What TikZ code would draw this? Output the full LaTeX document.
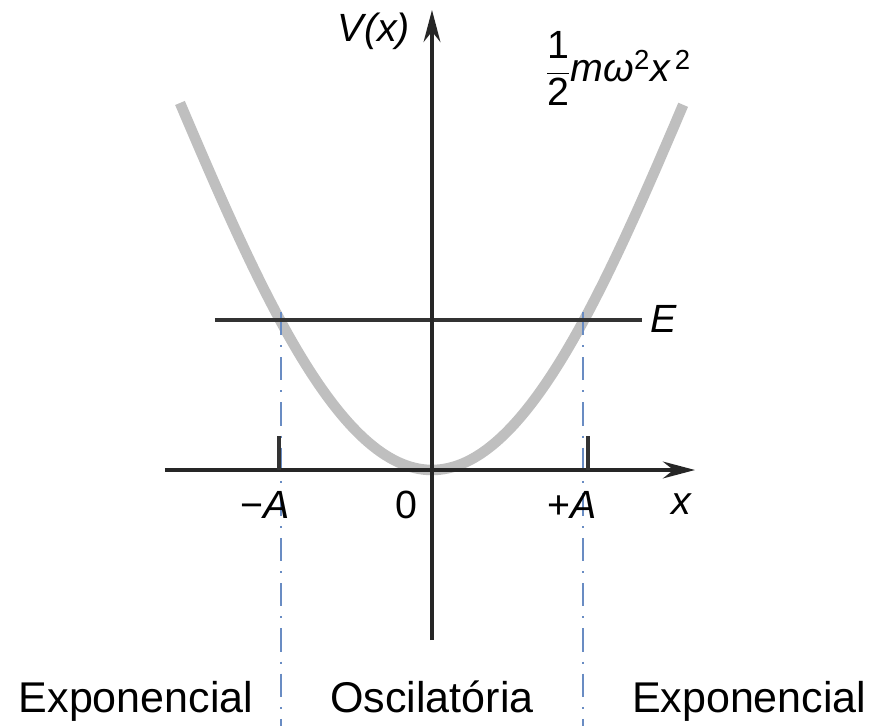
\documentclass[tikz,border=0pt]{standalone}
\usepackage{amsmath}
\usepackage{fontspec}
\setmainfont{Liberation Sans}
\usetikzlibrary{arrows.meta}
\definecolor{turncol}{RGB}{105,140,195}
\begin{document}
\begin{tikzpicture}[
    every node/.style={font=\fontsize{28}{34}\selectfont, inner sep=0pt},
    lbl/.style={font=\fontsize{28}{34}\selectfont\itshape, anchor=base},
    region/.style={font=\fontsize{30.6}{36}\selectfont, anchor=base},
    axis/.style={-{Stealth[length=0.8cm, width=0.42cm]}, line width=2.5pt, black!85},
    level/.style={line width=2.5pt, black!80},
    turn/.style={line width=1.1pt, turncol, dash pattern=on 0.58cm off 0.25cm on 0.05cm off 0.25cm},
    pot/.style={line width=7.5pt, black!25}]
\useasboundingbox (-10.8,-6.4) rectangle (11.1,11.75);
% axes end points
\coordinate (xl) at (-6.675,0);
\coordinate (xr) at (6.575,0);
\coordinate (yb) at (0,-4.25);
\coordinate (yt) at (0,11.5);
\coordinate (el) at (-5.425,3.75);
\coordinate (er) at (5.25,3.75);
\coordinate (ta) at (-3.83,0);
\coordinate (tb) at (3.9,0);
% turning points
\coordinate (lt) at (-3.78,3.95);
\coordinate (lb) at (-3.78,-6.4);
\coordinate (rt) at (3.78,3.95);
\coordinate (rb) at (3.78,-6.4);
% potential
\draw[pot] plot[domain=-6.3:6.28, samples=121, smooth] (\x,{0.276*\x*\x-0.001132*\x*\x*\x*\x});
\draw[turn] (lt) -- (lb);
\draw[turn] (rt) -- (rb);
\draw[level] (el) -- (er);
\draw[axis] (xl) -- (xr);
\draw[axis] (yb) -- (yt);
\draw[level] (ta) -- ++(0,0.85);
\draw[level] (tb) -- ++(0,0.85);
\node[lbl] (vx) at (-1.45,10.7) {V(x)};
\node[anchor=base west] (vfun) at (2.83,9.7) {$\dfrac{\textup{1}}{\textup{2}}\textit{mω}^{\textup{2}}\textit{x}^{\,\textup{2}}$};
\node[lbl] (en) at (5.78,3.425) {E};
\node[anchor=base] (ma) at (-4.18,-1.2) {−\textit{A}};
\node[anchor=base] (zero) at (-0.65,-1.2) {0};
\node[anchor=base] (pa) at (3.5,-1.2) {+\textit{A}};
\node[lbl] (xlab) at (6.23,-1.1) {x};
\node[region] (expl) at (-7.4,-6.05) {Exponencial};
\node[region] (osc) at (0,-6.05) {Oscilatória};
\node[region] (expr) at (7.93,-6.05) {Exponencial};
\end{tikzpicture}
\end{document}
